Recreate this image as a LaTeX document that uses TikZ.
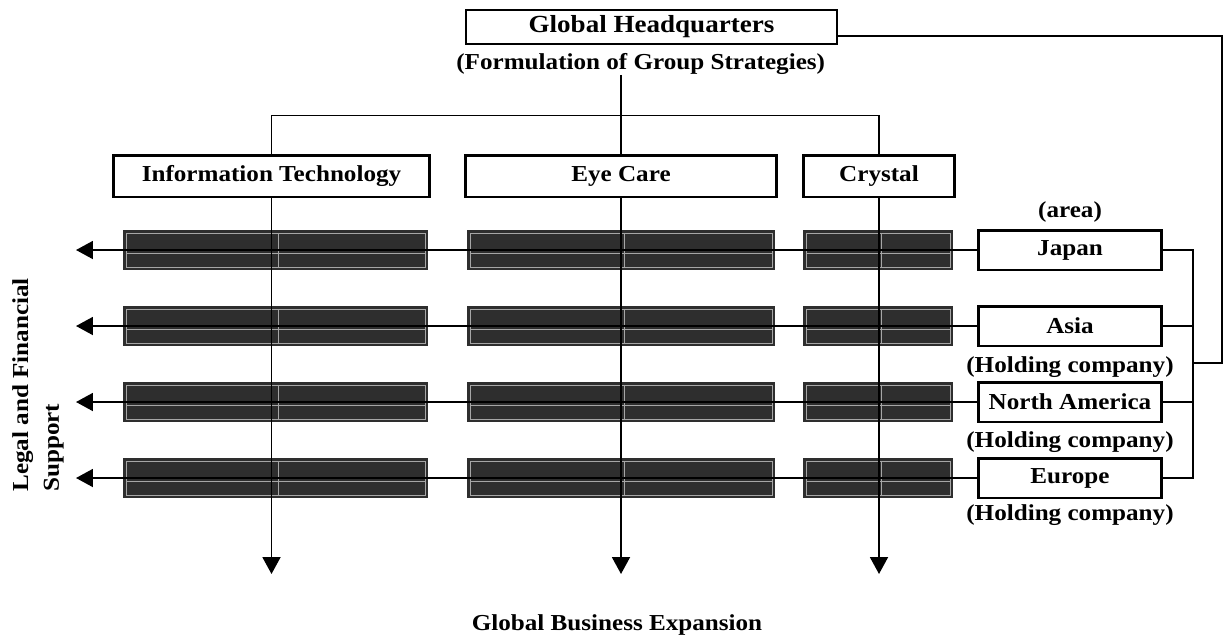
\documentclass[tikz,border=0pt]{standalone}
\usepackage{fontspec}
\setmainfont[FakeStretch=1.1]{Liberation Serif}
\usetikzlibrary{arrows.meta,calc,positioning}

\begin{document}
\begin{tikzpicture}[
    x=0.02cm, y=-0.02cm,
    line join=miter,
    txt/.style={font=\bfseries\fontsize{13}{15}\selectfont, inner sep=0pt},
    unit/.style={txt, draw, line width=1.7pt, fill=white, minimum height=8.4mm},
    area/.style={txt, draw, line width=1.7pt, fill=white, minimum width=36.8mm, minimum height=8mm},
    cell/.style={
        fill=black!82, inner sep=0pt, minimum height=8mm,
        path picture={
            \draw[black!35, line width=0.5pt]
                ([shift={(3,3)}]path picture bounding box.north west) rectangle
                ([shift={(-3,-3)}]path picture bounding box.south east);
            \draw[black!35, line width=0.5pt]
                ([shift={(3,3)}]path picture bounding box.west) --
                ([shift={(-3,3)}]path picture bounding box.east);
            \draw[black!35, line width=0.5pt]
                ([shift={(3,3)}]path picture bounding box.north) --
                ([shift={(3,-3)}]path picture bounding box.south);
        }
    },
    link/.style={line width=0.8pt},
    flow/.style={line width=1.1pt},
    arrow/.style={line width=1.1pt, -{Triangle[length=3.4mm,width=3.6mm]}}
]

\useasboundingbox[fill=white] (0,0) rectangle (1225,643);

% -------------------------------------------------
% Headquarters
% -------------------------------------------------
\node[unit, line width=1.2pt, minimum width=74.2mm, minimum height=6.8mm,
      font=\bfseries\fontsize{14}{16}\selectfont]
    (hq) at (651.5,27) {Global Headquarters};
\node[txt] (strat) at (635,64)
    {\hspace{0.5em}(Formulation of Group Strategies)\hspace{0.5em}};

% -------------------------------------------------
% Business units
% -------------------------------------------------
\node[unit, minimum width=63.4mm] (it)   at (271.5,176) {Information Technology};
\node[unit, minimum width=62.4mm] (eye)  at (621,176)   {Eye Care};
\node[unit, minimum width=30.4mm] (crys) at (879,176)   {Crystal};

% -------------------------------------------------
% Areas and cells
% -------------------------------------------------
\node[txt] (areanote) at (1070,212) {(area)};

\foreach \name/\r/\y/\txt in {japan/1/250/Japan, asia/2/326/Asia,
                              namerica/3/402/North America, europe/4/478/Europe} {
    \node[cell, minimum width=61mm]   (it-\r)   at (275.5,\y) {};
    \node[cell, minimum width=61.6mm] (eye-\r)  at (621,\y)   {};
    \node[cell, minimum width=30mm]   (crys-\r) at (878,\y)   {};
    \node[area] (\name) at (1070,\y) {\txt};
    \coordinate (ls-\r) at (76,\y);
}

\node[txt] (hold-asia)     at (1070,367) {(Holding company)};
\node[txt] (hold-namerica) at (1070,442) {(Holding company)};
\node[txt] (hold-europe)   at (1070,515) {(Holding company)};

% -------------------------------------------------
% Connectors
% -------------------------------------------------
\draw[link] (eye.north |- strat.south) -- (eye.north);
\path (eye.north) ++(0,-38) coordinate (split);
\draw[link] (it.north) |- (split) -| (crys.north);

\coordinate (hqout)  at ($(hq.south east)!0.25!(hq.north east)$);
\coordinate (hqdrop) at (1222,363);
\coordinate (hqjoin) at (1193,363);
\draw[link] (hqout) -| (hqdrop) -- (hqjoin);

\draw[flow] (japan.east) -| (hqjoin |- europe.east) -- (europe.east);
\draw[flow] (asia.east) -- (asia.east -| hqjoin);
\draw[flow] (namerica.east) -- (namerica.east -| hqjoin);

% Legal and financial support
\foreach \name/\r in {japan/1, asia/2, namerica/3, europe/4} {
    \draw[arrow] (\name.west) -- (ls-\r);
}

% Global business expansion
\coordinate (bottom) at (0,574);
\foreach \col in {it, eye, crys} {
    \coordinate (ge-\col) at (\col.south |- bottom);
    \draw[arrow] (\col.south) -- (ge-\col);
}

\node[txt, rotate=90, anchor=west, align=left, font=\bfseries\fontsize{13}{17.6}\selectfont]
    (legal) at (38,492) {Legal and Financial\\Support};
\node[txt] (expansion) at (617,625) {Global Business Expansion};

\end{tikzpicture}
\end{document}
